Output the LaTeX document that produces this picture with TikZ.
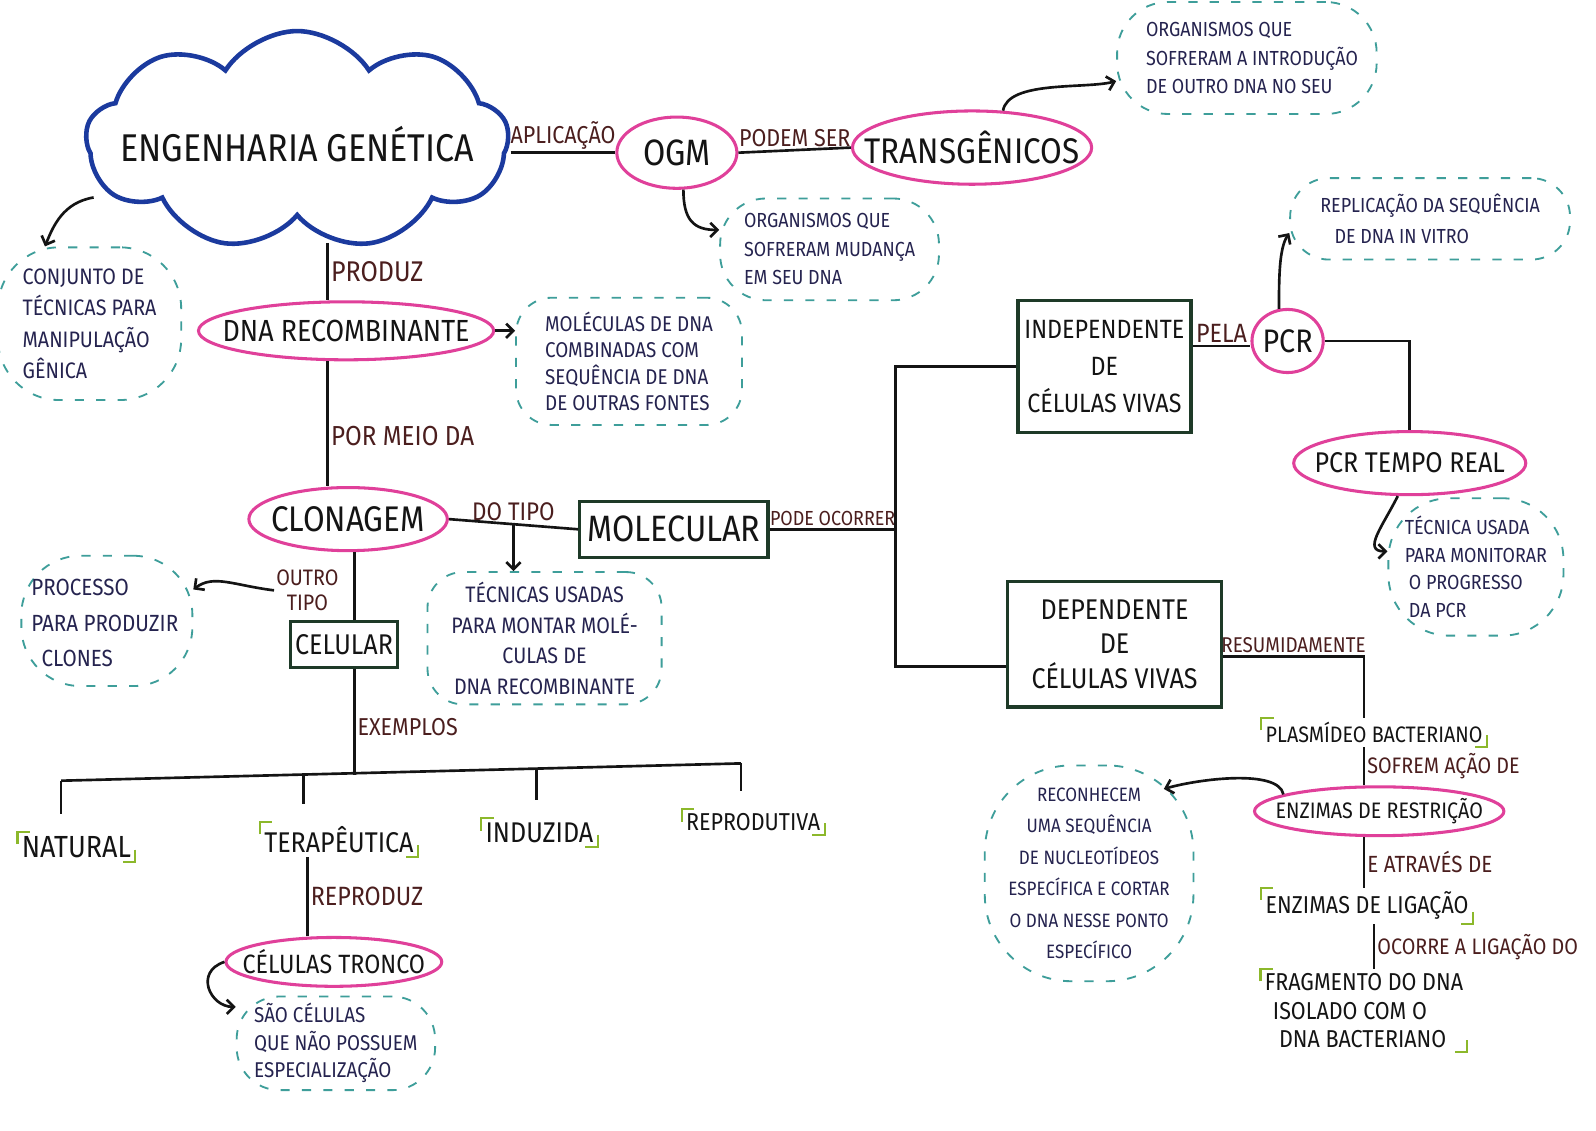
\documentclass[tikz,border=0pt]{standalone}
\usepackage{fontspec}
\setmainfont{Fira Sans}[FakeStretch=0.88]
\usetikzlibrary{shapes.geometric,shapes.symbols,shapes.misc,arrows.meta,calc}
\definecolor{pinkc}{HTML}{E0409A}
\definecolor{cloudc}{HTML}{1B3A9E}
\definecolor{tealc}{HTML}{3E9E9A}
\definecolor{boxc}{HTML}{1E3A28}
\definecolor{labc}{HTML}{4B1E1E}
\definecolor{inkc}{HTML}{141414}
\definecolor{notec}{HTML}{25234F}
\definecolor{brkc}{HTML}{8CB82B}
\newcommand\fs[2]{\fontsize{#1}{#2}\selectfont}
\tikzset{
  pinkel/.style={ellipse, draw=pinkc, line width=3pt, inner sep=0pt},
  notee/.style={rectangle, rounded corners=#1, draw=tealc, dash pattern=on 9pt off 12pt, line width=1.8pt, inner sep=0pt},
  noter/.style={rectangle, rounded corners=35pt, draw=tealc, dash pattern=on 9pt off 12pt, line width=1.8pt, inner sep=0pt, text=notec},
  gbox/.style={rectangle, draw=boxc, line width=3.2pt, inner sep=0pt, align=center, text=inkc},
  tx/.style={inner sep=0pt, text=inkc},
  ntx/.style={inner sep=0pt, text=notec, align=left},
  lab/.style={text=labc, inner sep=2pt},
  conn/.style={draw=inkc, line width=2.6pt},
  arr/.style={conn, -{Straight Barb[length=7pt,width=14pt]}},
  item/.style={text=inkc, inner sep=4pt},
  brk/.style={draw=brkc, line width=2pt},
}
\begin{document}
\begin{tikzpicture}[x=1pt,y=-1pt]
\fill[white] (0,0) rectangle (1568,1111);
\useasboundingbox (0,0) rectangle (1568,1111);
% main nodes
\node[cloud, cloud puffs=9, cloud puff arc=115, cloud ignores aspect, minimum width=415pt, minimum height=215pt, draw=cloudc, line width=4.5pt, inner sep=0pt] (eng) at (292,138) {};
\node[tx, font=\fs{38}{40}] (engt) at (292,142) {ENGENHARIA GENÉTICA};
\node[pinkel, minimum width=118pt, minimum height=70pt] (ogm) at (665,150) {};
\node[tx, font=\fs{36}{40}] (ogmt) at (ogm) {OGM};
\node[pinkel, minimum width=235pt, minimum height=72pt] (trans) at (955,145) {};
\node[tx, font=\fs{35}{38}] (transt) at (trans) {TRANSGÊNICOS};
\node[notee=50pt, minimum width=255pt, minimum height=110pt] (n1) at (1225,57) {};
\node[ntx, font=\fs{20}{28}] (n1t) at (1230,57) {ORGANISMOS QUE\\SOFRERAM A INTRODUÇÃO\\DE OUTRO DNA NO SEU};
\node[notee=45pt, minimum width=215pt, minimum height=100pt] (n2) at (815,245) {};
\node[ntx, font=\fs{20}{28}] (n2t) at (815,245) {ORGANISMOS QUE\\SOFRERAM MUDANÇA\\EM SEU DNA};
\node[notee=60pt, minimum width=180pt, minimum height=150pt] (n3) at (88,318) {};
\node[ntx, font=\fs{22}{31}] (n3t) at (88,318) {CONJUNTO DE\\TÉCNICAS PARA\\MANIPULAÇÃO\\GÊNICA};
\node[pinkel, minimum width=290pt, minimum height=57pt] (dna) at (340,325) {};
\node[tx, font=\fs{30}{34}] (dnat) at (dna) {DNA RECOMBINANTE};
\node[noter, minimum width=222pt, minimum height=125pt, align=left, font=\fs{21}{26}] (n4) at (618,355) {MOLÉCULAS DE DNA\\COMBINADAS COM\\SEQUÊNCIA DE DNA\\DE OUTRAS FONTES};
\node[pinkel, minimum width=195pt, minimum height=62pt] (clon) at (342,510) {};
\node[tx, font=\fs{35}{40}] (clont) at (clon) {CLONAGEM};
\node[gbox, minimum width=185pt, minimum height=55pt, font=\fs{36}{38}] (mol) at (662,520) {MOLECULAR};
\node[noter, minimum width=230pt, minimum height=130pt, align=center, font=\fs{22}{30}] (n5) at (535,627) {TÉCNICAS USADAS\\PARA MONTAR MOLÉ-\\CULAS DE\\DNA RECOMBINANTE};
\node[gbox, minimum width=170pt, minimum height=130pt, font=\fs{26}{36}] (ind) at (1085,360) {INDEPENDENTE\\DE\\CÉLULAS VIVAS};
\node[gbox, minimum width=210pt, minimum height=123pt, font=\fs{28}{34}] (dep) at (1095,633) {DEPENDENTE\\DE\\CÉLULAS VIVAS};
\node[pinkel, minimum width=70pt, minimum height=62pt] (pcr) at (1265,335) {};
\node[tx, font=\fs{32}{36}] (pcrt) at (pcr) {PCR};
\node[notee=38pt, minimum width=275pt, minimum height=80pt] (n6) at (1405,215) {};
\node[ntx, font=\fs{20}{30}] (n6t) at (1405,215) {REPLICAÇÃO DA SEQUÊNCIA\\\hspace*{14pt}DE DNA IN VITRO};
\node[pinkel, minimum width=228pt, minimum height=62pt] (ptr) at (1385,455) {};
\node[tx, font=\fs{28}{32}] (ptrt) at (ptr) {PCR TEMPO REAL};
\node[notee=60pt, minimum width=172pt, minimum height=135pt] (n7) at (1450,557) {};
\node[ntx, font=\fs{20}{27}] (n7t) at (1450,557) {TÉCNICA USADA\\PARA MONITORAR\\\hspace*{4pt}O PROGRESSO\\\hspace*{4pt}DA PCR};
\node[item, font=\fs{22}{26}] (plas) at (1350,720) {PLASMÍDEO BACTERIANO};
\node[pinkel, minimum width=245pt, minimum height=48pt] (enzr) at (1355,797) {};
\node[tx, font=\fs{22}{26}] (enzrt) at (enzr) {ENZIMAS DE RESTRIÇÃO};
\node[notee=85pt, minimum width=205pt, minimum height=212pt] (n8) at (1070,858) {};
\node[ntx, align=center, font=\fs{19}{31}] (n8t) at (1070,858) {RECONHECEM\\UMA SEQUÊNCIA\\DE NUCLEOTÍDEOS\\ESPECÍFICA E CORTAR\\O DNA NESSE PONTO\\ESPECÍFICO};
\node[item, font=\fs{24}{28}] (enzl) at (1343,890) {ENZIMAS DE LIGAÇÃO};
\node[item, align=left, font=\fs{24}{28}] (frag) at (1340,993) {FRAGMENTO DO DNA\\\hspace*{8pt}ISOLADO COM O\\\hspace*{14pt}DNA BACTERIANO};
\node[gbox, minimum width=105pt, minimum height=45pt, font=\fs{28}{32}] (cel) at (338,633) {CELULAR};
\node[notee=58pt, minimum width=168pt, minimum height=128pt] (n9) at (105,610) {};
\node[ntx, font=\fs{23}{35}] (n9t) at (103,612) {PROCESSO\\PARA PRODUZIR\\\hspace*{10pt}CLONES};
\node[lab, align=center, font=\fs{22}{24}] (outro) at (302,580) {OUTRO\\TIPO};
\node[item, font=\fs{30}{34}] (nat) at (75,832) {NATURAL};
\node[item, font=\fs{28}{32}] (ter) at (333,825) {TERAPÊUTICA};
\node[item, font=\fs{28}{32}] (indz) at (530,818) {INDUZIDA};
\node[item, font=\fs{24}{28}] (rep) at (740,808) {REPRODUTIVA};
\node[pinkel, minimum width=212pt, minimum height=48pt] (ct) at (328,945) {};
\node[tx, font=\fs{26}{32}] (ctt) at (ct) {CÉLULAS TRONCO};
\node[notee=42pt, minimum width=195pt, minimum height=92pt] (n10) at (330,1025) {};
\node[ntx, font=\fs{21}{27}] (n10t) at (330,1025) {SÃO CÉLULAS\\QUE NÃO POSSUEM\\ESPECIALIZAÇÃO};
% connectors
\draw[conn] (ogm.west -| eng.east) -- node[lab, above, font=\fs{24}{28}]{APLICAÇÃO} (ogm.west);
\draw[conn] (ogm.east) -- node[lab, above, font=\fs{24}{28}]{PODEM SER} (trans.west);
\coordinate (c1) at ([xshift=-18pt]dna.north);
\coordinate (cb) at ([yshift=-24pt]eng.south);
\draw[conn] (c1 |- cb) -- node[lab, right, font=\fs{28}{32}]{PRODUZ} (c1);
\draw[arr] (dna.east) -- (dna.east -| n4.west);
\coordinate (c2) at ([xshift=-18pt]dna.south);
\draw[conn] (c2) -- node[lab, right, pos=0.6, font=\fs{27}{30}]{POR MEIO DA} (c2 |- clon.north);
\draw[conn] (clon.east) -- node[lab, above, font=\fs{25}{28}]{DO TIPO} (mol.west);
\coordinate (dtc) at ($(clon.east)!0.5!(mol.west)$);
\draw[arr] (dtc) -- (dtc |- n5.north);
\coordinate (trunk) at (880,520);
\draw[conn] (mol.east) -- node[lab, above, font=\fs{20}{24}]{PODE OCORRER} (trunk);
\draw[conn] (ind.west) -| (trunk);
\coordinate (dw) at ([yshift=-22pt]dep.west);
\draw[conn] (dw) -| (trunk);
\coordinate (ie) at ([yshift=20pt]ind.east);
\draw[conn] (ie) -- node[lab, above, font=\fs{26}{28}]{PELA} (ie -| pcr.west);
\draw[conn] (pcr.east) -| (ptr.north);
\coordinate (de) at ([yshift=-12pt]dep.east);
\coordinate (pn) at ([xshift=-10pt]plas.north);
\draw[conn] (de) -| node[lab, above, pos=0.25, font=\fs{21}{24}]{RESUMIDAMENTE} (pn);
\coordinate (ps) at ([xshift=-10pt]plas.south);
\draw[conn] (ps) -- node[lab, right, font=\fs{22}{24}]{SOFREM AÇÃO DE} (ps |- enzr.north);
\coordinate (es) at ([xshift=-15pt]enzr.south);
\draw[conn] (es) -- node[lab, right, font=\fs{23}{26}]{E ATRAVÉS DE} (es |- enzl.north);
\coordinate (ls) at ([xshift=7pt]enzl.south);
\draw[conn] (ls) -- node[lab, right, font=\fs{22}{24}]{OCORRE A LIGAÇÃO DO} (ls |- frag.north);
\coordinate (cn) at ([xshift=10pt]cel.north);
\draw[conn] (cn |- clon.south) -- (cn);
\coordinate (b0) at (60,767);
\coordinate (b1) at (298,762);
\coordinate (bm) at (348,761);
\coordinate (b2) at (527,756);
\coordinate (b3) at (728,750);
\coordinate (cs) at ([xshift=10pt]cel.south);
\draw[conn] (cs) -- node[lab, right, pos=0.55, font=\fs{24}{26}]{EXEMPLOS} (bm);
\draw[conn] (b0) -- (b3);
\draw[conn] (b0) -- ([yshift=18pt]b0 |- nat.north);
\draw[conn] (b1) -- ([yshift=18pt]b1 |- ter.north);
\draw[conn] (b2) -- ([yshift=18pt]b2 |- indz.north);
\draw[conn] (b3) -- ([yshift=18pt]b3 |- rep.north);
\coordinate (ts) at ([xshift=-31pt]ter.south);
\draw[conn] (ts) -- node[lab, right, font=\fs{26}{28}]{REPRODUZ} (ts |- ct.north);
% arrows to notes
\coordinate (cl) at (92,194);
\coordinate (n6in) at ([yshift=-14pt]n6.west);
\coordinate (n8in) at ([xshift=-30pt,yshift=-24pt]n8.north east);
\draw[arr] (trans.50) .. controls +(5,-30) and +(-30,8) .. (n1.190);
\draw[arr] (ogm.-80) .. controls +(0,30) and +(-25,0) .. (n2.170);
\draw[arr] (cl) .. controls +(-30,5) and +(8,-20) .. (n3.120);
\draw[arr] (pcr.105) .. controls +(0,-30) and +(-10,15) .. (n6in);
\draw[arr] (ptr.-110) .. controls +(-15,30) and +(-25,0) .. (n7.170);
\draw[arr] (enzr.170) .. controls +(-5,-25) and +(35,-10) .. (n8in);
\draw[arr] (outro.west) .. controls +(-40,-5) and +(20,-15) .. (n9.20);
\draw[arr] (ct.west) .. controls +(-30,10) and +(-25,0) .. (n10.160);
% brackets
\foreach \n in {nat,ter,indz,rep,plas,enzl,frag}{
  \draw[brk] ([yshift=-12pt]\n.north west) -- (\n.north west) -- ([xshift=12pt]\n.north west);
  \draw[brk] ([yshift=12pt]\n.south east) -- (\n.south east) -- ([xshift=-12pt]\n.south east);
}
\end{tikzpicture}
\end{document}
